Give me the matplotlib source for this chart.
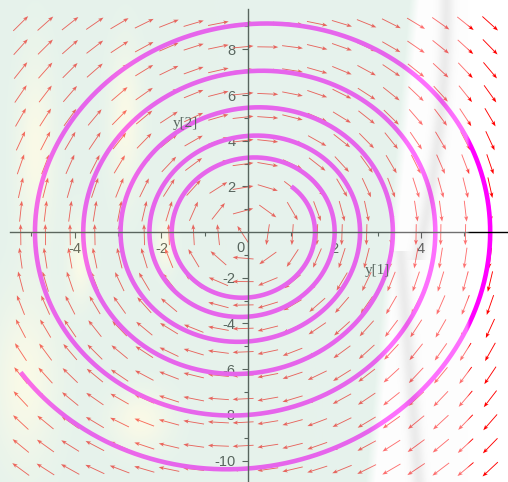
import numpy as np
import matplotlib
matplotlib.use("Agg")
import matplotlib.pyplot as plt

# Linear system:  y1' = y2 ,  y2' = K*y1 + D*y2
K = -3.02
D = 0.142
Y_START = (1.0, 2.0)
T_END = 20.06
N_ARROWS = 20

X_TICKS = [-4, -2, 2, 4]
Y_TICKS = [-10, -8, -6, -4, -2, 2, 4, 6, 8]
X_MINOR = [-5, -3, -1, 1, 3, 5]
Y_MINOR = [-9, -7, -5, -3, -1, 1, 3, 5, 7, 9]
X_VIEW = (-5.727, 6.005)
Y_VIEW = (-10.94, 10.16)
X_AXIS_SPAN = (-5.5, 6.005)
Y_AXIS_SPAN = (-10.94, 9.75)
LABEL_Y1 = (3.0, -1.69)
LABEL_Y2 = (-1.455, 4.75)

plt.rcParams['font.family'] = ['Liberation Sans', 'DejaVu Sans']


def field(y1, y2):
    return y2, K * y1 + D * y2


def solve(y0, t_end, dt=0.002):
    n = int(round(t_end / dt))
    out = np.empty((n + 1, 2))
    s = np.array(y0, dtype=float)
    out[0] = s
    f = lambda v: np.array(field(v[0], v[1]))
    for i in range(n):
        k1 = f(s)
        k2 = f(s + 0.5 * dt * k1)
        k3 = f(s + 0.5 * dt * k2)
        k4 = f(s + dt * k3)
        s = s + dt / 6.0 * (k1 + 2 * k2 + 2 * k3 + k4)
        out[i + 1] = s
    return out


traj = solve(Y_START, T_END)

fig = plt.figure(figsize=(5.08, 4.82), dpi=100)
fig.patch.set_facecolor('white')
ax = fig.add_axes([0, 0, 1, 1])
ax.set_facecolor('white')
ax.set_xlim(*X_VIEW)
ax.set_ylim(*Y_VIEW)

# direction field on a grid spanning the solution curve
gx = np.linspace(traj[:, 0].min(), traj[:, 0].max(), N_ARROWS)
gy = np.linspace(traj[:, 1].min(), traj[:, 1].max(), N_ARROWS)
GX, GY = np.meshgrid(gx, gy)
U, V = field(GX, GY)
M = np.hypot(U, V)
M[M == 0] = 1
ax.quiver(GX, GY, U / M, V / M, angles='xy', units='dots', scale_units='dots',
          scale=1 / 21.0, width=0.9, headwidth=4.5, headlength=6,
          headaxislength=4.8, pivot='middle', color='#ff0000', zorder=2)

ax.plot(traj[:, 0], traj[:, 1], color='#ff00ff', lw=3.3,
        solid_capstyle='butt', zorder=3)

# axes through the origin
for side in ('top', 'right'):
    ax.spines[side].set_visible(False)
ax.spines['left'].set_position(('data', 0))
ax.spines['bottom'].set_position(('data', 0))
ax.spines['left'].set_bounds(*Y_AXIS_SPAN)
ax.spines['bottom'].set_bounds(*X_AXIS_SPAN)
for side in ('left', 'bottom'):
    ax.spines[side].set_linewidth(1.0)
    ax.spines[side].set_color('black')
    ax.spines[side].set_zorder(4)

ax.set_xticks(X_TICKS)
ax.set_xticklabels([str(v) for v in X_TICKS])
ax.set_yticks(Y_TICKS)
ax.set_yticklabels([str(v) for v in Y_TICKS])
ax.set_xticks(X_MINOR, minor=True)
ax.set_yticks(Y_MINOR, minor=True)
ax.tick_params(which='major', direction='out', length=4.3, width=0.8,
               labelsize=10.5, colors='black')
ax.tick_params(which='minor', direction='out', length=2.8, width=0.8,
               colors='black')
ax.tick_params(axis='x', which='major', pad=3)
ax.tick_params(axis='y', which='major', pad=4.5)
ax.annotate('0', xy=(0, 0), xytext=(-7.5, -15.5), textcoords='offset pixels',
            ha='center', va='center', fontsize=10.5, color='black')

ax.text(*LABEL_Y1, 'y[1]', family='Liberation Serif', fontsize=11,
        ha='center', va='center', color='black', zorder=5)
ax.text(*LABEL_Y2, 'y[2]', family='Liberation Serif', fontsize=11,
        ha='center', va='center', color='black', zorder=5)

# pale translucent backdrop laid over the left part of the figure
H, W = 482, 508
yy, xx = np.mgrid[0:H, 0:W].astype(float)
mint_edge = 414 - 44 * yy / H
mint = np.clip((mint_edge - xx) / 10 + 0.5, 0, 1)
cover = np.clip((468 - xx) / 3 + 0.5, 0, 1)
c_mint = np.array([199, 228, 213], float)
c_white = np.array([252, 252, 252], float)
c_cream = np.array([255, 248, 200], float)
c_grey = np.array([195, 195, 195], float)
col = mint[..., None] * c_mint + (1 - mint[..., None]) * c_white


def blob(cx, cy, sx, sy):
    return np.exp(-(((xx - cx) / sx) ** 2 + ((yy - cy) / sy) ** 2))


cream = np.clip(blob(35, 150, 18, 90) + blob(125, 120, 16, 70)
                + blob(25, 380, 30, 80) + blob(140, 420, 30, 30)
                + blob(165, 245, 10, 25) + blob(80, 260, 12, 40), 0, 1) * 0.8
cream *= mint
col = col * (1 - cream[..., None]) + c_cream * cream[..., None]
streak = (np.exp(-((xx - (446 - 25 * (yy / 240.0) ** 2)) / 7) ** 2) * (yy < 260)
          + np.exp(-((xx - (400 + 18 * ((yy - 250) / 230.0))) / 7) ** 2)
          * (yy > 250)) * (1 - mint) * 0.7
col = col * (1 - streak[..., None]) + c_grey * streak[..., None]
rgba = np.dstack([col / 255.0, 0.45 * cover])
fig.figimage(rgba, xo=0, yo=0, origin='upper', zorder=10)

fig.savefig('out.png', dpi=100)
